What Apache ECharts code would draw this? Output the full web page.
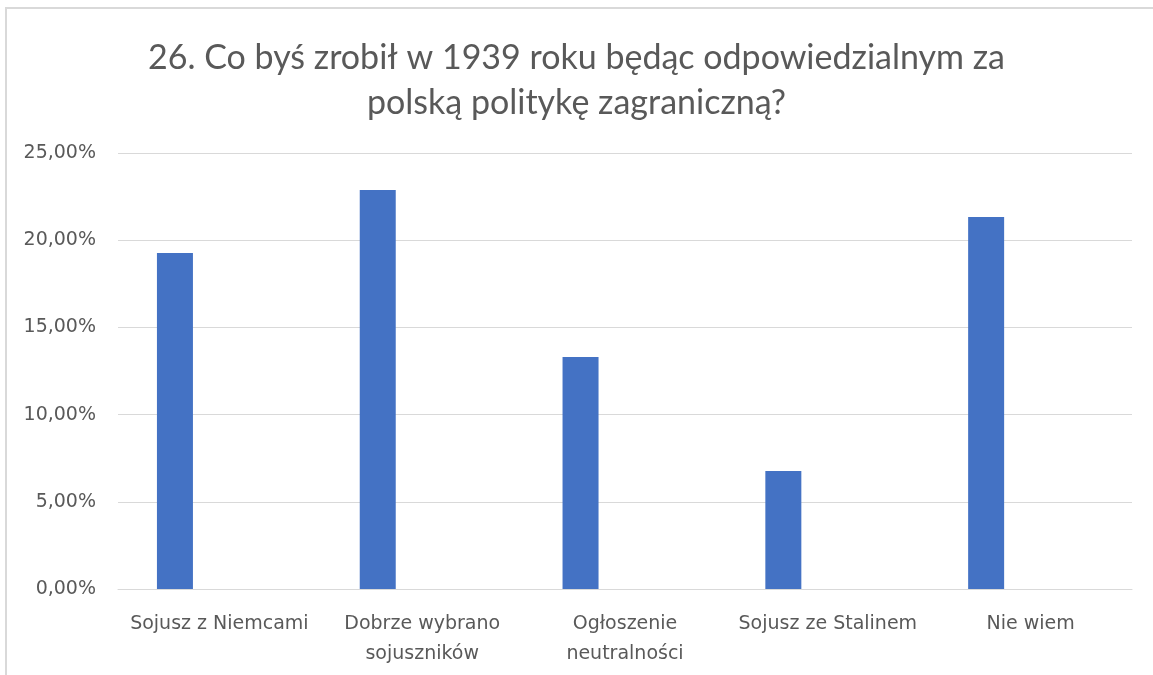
<!DOCTYPE html>
<html>
<head>
<meta charset="utf-8">
<script src="https://cdn.jsdelivr.net/npm/echarts@6/dist/echarts.min.js"></script>
<style>
  html, body { margin: 0; padding: 0; background: #fff; }
  .frame { position: absolute; left: 5px; top: 7px; width: 1148px; height: 668px;
           border-left: 2px solid #d9d9d9; border-top: 2px solid #d9d9d9; box-sizing: border-box; }
  #chart { position: absolute; left: 0; top: 0; width: 1153px; height: 675px; }
</style>
</head>
<body>
<div class="frame"></div>
<div id="chart"></div>
<script>
const title = '26. Co byś zrobił w 1939 roku będąc odpowiedzialnym za\npolską politykę zagraniczną?'
const categories = ['Sojusz z Niemcami', 'Dobrze wybrano\nsojuszników', 'Ogłoszenie\nneutralności', 'Sojusz ze Stalinem', 'Nie wiem']
const values = [19.27, 22.88, 13.30, 6.77, 21.33]
const yTicks = { min: 0, max: 25, interval: 5 }

const fmt = v => v.toFixed(2).replace('.', ',') + '%'

const chart = echarts.init(document.getElementById('chart'))
chart.setOption({
  animation: false,
  textStyle: { fontFamily: '"DejaVu Sans", sans-serif' },
  title: {
    text: title,
    left: 'center',
    top: 31,
    textStyle: { fontSize: 34, fontWeight: 'normal', color: '#595959', lineHeight: 45, fontFamily: 'Lato, sans-serif' }
  },
  grid: { left: 118, right: 21, top: 153, bottom: 86, containLabel: false },
  xAxis: {
    type: 'category',
    data: categories,
    axisLine: { lineStyle: { color: '#d9d9d9', width: 1 } },
    axisTick: { show: false },
    axisLabel: { color: '#595959', fontSize: 19, lineHeight: 30, margin: 20, interval: 0 }
  },
  yAxis: {
    type: 'value',
    min: yTicks.min,
    max: yTicks.max,
    interval: yTicks.interval,
    axisLine: { show: false },
    axisTick: { show: false },
    splitLine: { lineStyle: { color: '#d9d9d9', width: 1 } },
    axisLabel: { color: '#595959', fontSize: 19, margin: 22, formatter: fmt }
  },
  series: [
    {
      type: 'bar',
      data: values,
      barWidth: 36,
      barGap: '147%',
      itemStyle: { color: '#4472c4' }
    },
    {
      type: 'bar',
      data: [],
      barWidth: 36,
      silent: true
    }
  ]
})
</script>
</body>
</html>
